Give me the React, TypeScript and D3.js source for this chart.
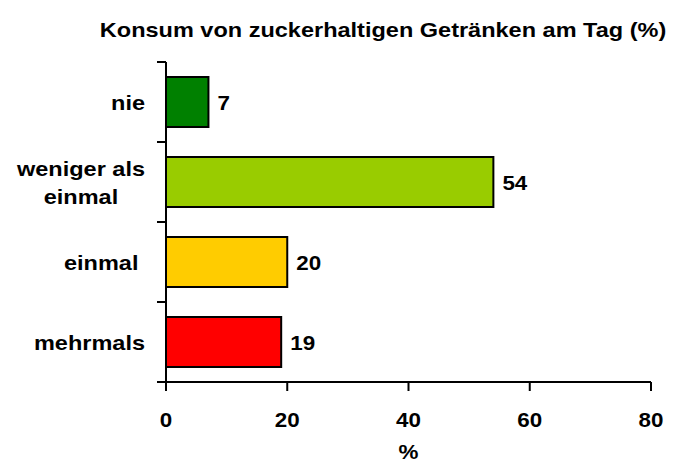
import React, { useEffect, useRef } from 'react'
import * as d3 from 'd3'

const title = 'Konsum von zuckerhaltigen Getränken am Tag (%)'
const categories = ['nie', 'weniger als\neinmal', 'einmal ', 'mehrmals']
const values = [7, 54, 20, 19]
const barColors = ['#008000', '#99cc00', '#ffcc00', '#ff0000']
const xTicks = [0, 20, 40, 60, 80]
const xAxisLabel = '%'

const width = 690
const height = 462
const margin = { top: 62, right: 39, bottom: 80, left: 166 }
const fontSize = 21
const stretch = 1.12 // the source picture is squeezed wider than tall

export default function App () {
  const ref = useRef<SVGSVGElement>(null)

  useEffect(() => {
    const svg = d3.select(ref.current)
    svg.selectAll('*').remove()

    const plotW = width - margin.left - margin.right
    const plotH = height - margin.top - margin.bottom

    const x = d3.scaleLinear().domain([0, 80]).range([0, plotW])
    const y = d3.scaleBand<number>()
      .domain(d3.range(categories.length))
      .range([0, plotH])
      .paddingInner(0.375)
      .paddingOuter(0.1875)

    const addText = (g: any, tx: number, ty: number, str: string, anchor = 'middle', size = fontSize) =>
      g.append('text')
        .attr('transform', `translate(${tx},${ty}) scale(${stretch},1)`)
        .attr('text-anchor', anchor)
        .style('font-family', 'Liberation Sans, Arial, sans-serif')
        .style('font-weight', 700)
        .style('font-size', size + 'px')
        .style('white-space', 'pre')
        .attr('fill', '#000')
        .text(str)

    // title
    addText(svg, 383, 37, title)

    const chart = svg.append('g')
      .attr('transform', `translate(${margin.left}, ${margin.top})`)

    // bars
    chart.selectAll('.bar')
      .data(values)
      .enter()
      .append('rect')
      .attr('x', 0)
      .attr('y', (d, i) => y(i)!)
      .attr('width', d => x(d))
      .attr('height', y.bandwidth())
      .attr('fill', (d, i) => barColors[i])
      .attr('stroke', '#000')
      .attr('stroke-width', 2)

    // value labels
    values.forEach((v, i) => {
      addText(chart, x(v) + 9, y(i)! + y.bandwidth() / 2 + 7.5, String(v), 'start', 20)
    })

    // category labels, wrapped ones centred on their widest line
    const step = y.step()
    categories.forEach((c, i) => {
      const lines = c.split('\n')
      const mid = i * step + step / 2
      if (lines.length === 1) {
        addText(chart, -21, mid + 7.5, c, 'end')
        return
      }
      const probe = addText(chart, 0, 0, '', 'start')
      const widest = d3.max(lines, l => {
        probe.text(l)
        return (probe.node() as SVGTextElement).getComputedTextLength() * stretch
      })!
      probe.remove()
      lines.forEach((l, j) => {
        addText(chart, -21 - widest / 2, mid + 7.5 + (j - (lines.length - 1) / 2) * 28, l)
      })
    })

    const axis = chart.append('g')
      .attr('stroke', '#000')
      .attr('stroke-width', 2)
      .attr('fill', 'none')

    // y axis with ticks between categories
    axis.append('line')
      .attr('x1', 0).attr('x2', 0)
      .attr('y1', 0).attr('y2', plotH)
    d3.range(categories.length + 1).forEach(i => {
      axis.append('line')
        .attr('x1', -9).attr('x2', 0)
        .attr('y1', i * step).attr('y2', i * step)
    })

    // x axis
    axis.append('line')
      .attr('x1', 0).attr('x2', plotW)
      .attr('y1', plotH).attr('y2', plotH)
    xTicks.forEach(t => {
      axis.append('line')
        .attr('x1', x(t)).attr('x2', x(t))
        .attr('y1', plotH).attr('y2', plotH + 9)
      addText(chart, x(t), plotH + 45, String(t), 'middle', 20)
    })

    addText(chart, plotW / 2, plotH + 77, xAxisLabel, 'middle', 20)
  }, [])

  return (
    <svg ref={ref} width={width} height={height}
      style={{ position: 'absolute', left: 0, top: 0, background: '#fff' }} />
  )
}
